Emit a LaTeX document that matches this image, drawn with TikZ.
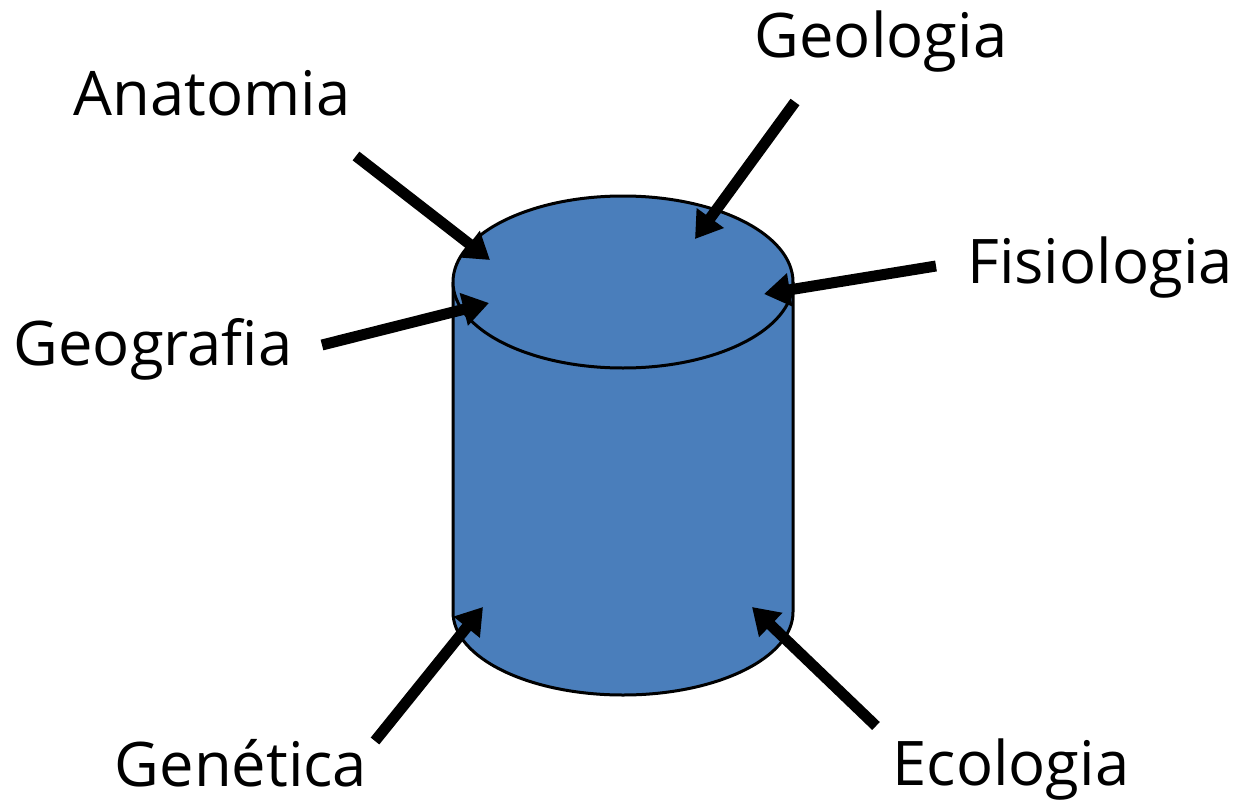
\documentclass[tikz,border=0pt]{standalone}
\usepackage{fontspec}
\setmainfont{Open Sans}
\usetikzlibrary{arrows.meta}
\definecolor{cylblue}{RGB}{74,126,187}
\tikzset{
  lbl/.style={anchor=base, inner sep=0pt, font=\fontsize{61.5}{62}\selectfont},
  arr/.style={line width=11pt, -{Triangle[length=26pt,width=32pt]}},
  cyl/.style={line width=3pt, draw=black, fill=cylblue}
}
\begin{document}
\begin{tikzpicture}[x=1pt,y=-1pt]
\useasboundingbox (0,0) rectangle (1253,803);
% cylinder body
\fill[cylblue] (453,282) -- (453,612) arc[start angle=180,end angle=0,x radius=170,y radius=83] -- (793,282) -- cycle;
\draw[line width=3pt] (453,282) -- (453,612) arc[start angle=180,end angle=0,x radius=170,y radius=83] -- (793,282);
\draw[cyl] (623,282) ellipse[x radius=170, y radius=86];
% labels
\node[lbl] (anat) at (212,115) {Anatomia};
\node[lbl] (geol) at (881,57) {Geologia};
\node[lbl] (fisi) at (1100,283) {Fisiologia};
\node[lbl] (geog) at (153,365) {Geografia};
\node[lbl] (gene) at (241,786) {Genética};
\node[lbl] (ecol) at (1011,785) {Ecologia};
% arrow ends
\coordinate (anatS) at (356,156);
\coordinate (anatT) at (490,260);
\coordinate (geolS) at (795,102);
\coordinate (geolT) at (695,239);
\coordinate (fisiS) at (936,266);
\coordinate (fisiT) at (764,294);
\coordinate (geogS) at (322,345);
\coordinate (geogT) at (489,303);
\coordinate (geneS) at (375,741);
\coordinate (geneT) at (483,607);
\coordinate (ecolS) at (876,726);
\coordinate (ecolT) at (752,607);
\draw[arr] (anatS) -- (anatT);
\draw[arr] (geolS) -- (geolT);
\draw[arr] (fisiS) -- (fisiT);
\draw[arr] (geogS) -- (geogT);
\draw[arr] (geneS) -- (geneT);
\draw[arr] (ecolS) -- (ecolT);
\end{tikzpicture}
\end{document}
